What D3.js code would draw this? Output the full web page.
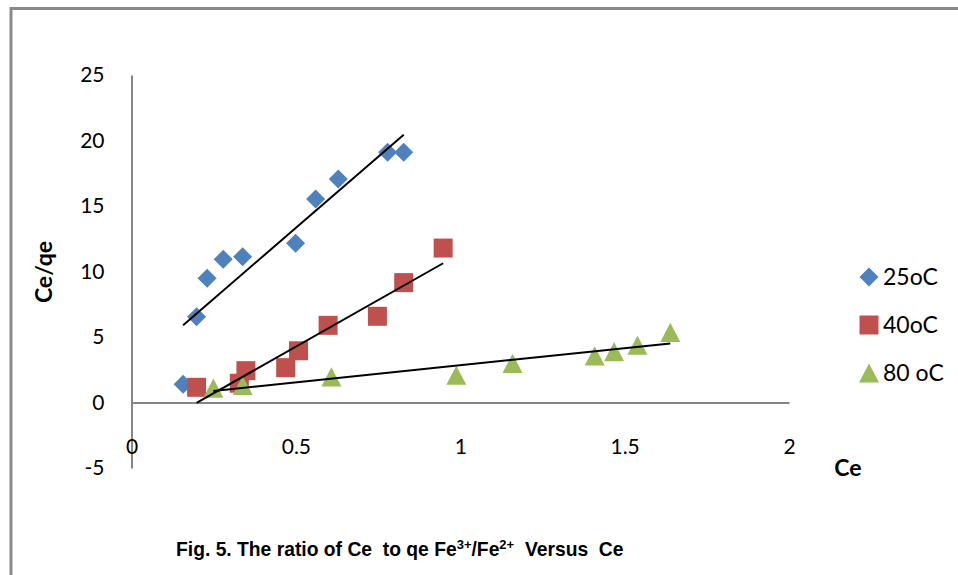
<!DOCTYPE html>
<html>
<head>
<meta charset="utf-8">
<script src="https://cdn.jsdelivr.net/npm/d3@7"></script>
<style>
  html, body { margin: 0; padding: 0; background: #fff; }
  svg { display: block; }
  text { white-space: pre; }
</style>
</head>
<body>
<svg id="chart" width="958" height="575"></svg>
<script>
// Ce (x) and Ce/qe (y) for each temperature
const ce25 = [0.157, 0.198, 0.230, 0.279, 0.338, 0.499, 0.560, 0.629, 0.779, 0.828];
const ratio25 = [1.39, 6.55, 9.48, 10.93, 11.13, 12.15, 15.53, 17.06, 19.10, 19.10];

const ce40 = [0.198, 0.328, 0.348, 0.469, 0.508, 0.598, 0.748, 0.828, 0.948];
const ratio40 = [1.16, 1.47, 2.43, 2.66, 3.95, 5.89, 6.58, 9.15, 11.79];

const ce80 = [0.249, 0.338, 0.608, 0.988, 1.159, 1.409, 1.468, 1.539, 1.639];
const ratio80 = [1.10, 1.31, 1.95, 2.08, 2.99, 3.56, 3.88, 4.37, 5.36];

const seriesNames = ["25oC", "40oC", "80 oC"];
const seriesColors = ["#4F81BD", "#C0504D", "#9BBB59"];

const xTicks = [0, 0.5, 1, 1.5, 2];
const yTicks = [-5, 0, 5, 10, 15, 20, 25];

const series = [
  { name: seriesNames[0], color: seriesColors[0], shape: "diamond", xs: ce25, ys: ratio25 },
  { name: seriesNames[1], color: seriesColors[1], shape: "square",  xs: ce40, ys: ratio40 },
  { name: seriesNames[2], color: seriesColors[2], shape: "triangle", xs: ce80, ys: ratio80 }
];

const svg = d3.select("#chart");
svg.append("rect").attr("width", 958).attr("height", 575).attr("fill", "#fff");

// Frame around the figure (left and top edges visible)
svg.append("path")
  .attr("d", "M11,575 L11,8.5 L958,8.5")
  .attr("fill", "none")
  .attr("stroke", "#8a8a8a")
  .attr("stroke-width", 3);

const x = d3.scaleLinear().domain([0, 2]).range([131.5, 789]);
const y = d3.scaleLinear().domain([-5, 25]).range([468, 75]);

const axisColor = "#868686";
const tickFont = "Lato, 'Open Sans', sans-serif";

// Y axis
const gy = svg.append("g")
  .attr("transform", `translate(${x(0)},0)`)
  .call(d3.axisLeft(y).tickValues(yTicks).tickSize(0).tickSizeOuter(0).tickPadding(27)
    .tickFormat(d => String(d)));
gy.select(".domain").attr("stroke", axisColor).attr("stroke-width", 2);
gy.selectAll("text").attr("font-family", tickFont).attr("font-size", 21).attr("fill", "#000");

// X axis at y = 0
const gx = svg.append("g")
  .attr("transform", `translate(0,${y(0)})`)
  .call(d3.axisBottom(x).tickValues(xTicks).tickSize(0).tickSizeOuter(0).tickPadding(37)
    .tickFormat(d => String(d)));
gx.select(".domain").attr("stroke", axisColor).attr("stroke-width", 2);
gx.selectAll("text").attr("font-family", tickFont).attr("font-size", 21).attr("fill", "#000");

// Marker shapes
const shapes = {
  diamond: { draw(ctx, size) { const r = Math.sqrt(size) / 2; ctx.moveTo(0, -r); ctx.lineTo(r, 0); ctx.lineTo(0, r); ctx.lineTo(-r, 0); ctx.closePath(); } },
  square:  { draw(ctx, size) { const r = Math.sqrt(size) / 2; ctx.rect(-r, -r, 2 * r, 2 * r); } },
  triangle:{ draw(ctx, size) { const w = Math.sqrt(size) / 2; const h = w * 0.96; ctx.moveTo(0, -h); ctx.lineTo(w, h); ctx.lineTo(-w, h); ctx.closePath(); } }
};
const markerSize = { diamond: 19 * 19, square: 19 * 19, triangle: 20 * 20 };

const symbolPath = s => d3.symbol().type(shapes[s]).size(markerSize[s])();

// Points
series.forEach(s => {
  svg.append("g").selectAll("path")
    .data(s.xs.map((v, i) => [v, s.ys[i]]))
    .join("path")
    .attr("transform", d => `translate(${x(d[0])},${y(d[1])})`)
    .attr("d", symbolPath(s.shape))
    .attr("fill", s.color);
});

// Linear trendlines (least squares), spanning each series' Ce range
function fit(xs, ys) {
  const mx = d3.mean(xs), my = d3.mean(ys);
  const sxy = d3.sum(xs, (v, i) => (v - mx) * (ys[i] - my));
  const sxx = d3.sum(xs, v => (v - mx) * (v - mx));
  const b = sxy / sxx;
  return { a: my - b * mx, b };
}
const line = d3.line().x(d => x(d[0])).y(d => y(d[1]));
series.forEach(s => {
  const { a, b } = fit(s.xs, s.ys);
  const [x0, x1] = d3.extent(s.xs);
  svg.append("path")
    .attr("d", line([[x0, a + b * x0], [x1, a + b * x1]]))
    .attr("fill", "none")
    .attr("stroke", "#000")
    .attr("stroke-width", 2);
});

// Legend
const legend = svg.append("g");
series.forEach((s, i) => {
  const ly = [277, 325, 373][i];
  legend.append("path")
    .attr("transform", `translate(869,${ly})`)
    .attr("d", symbolPath(s.shape))
    .attr("fill", s.color);
  legend.append("text")
    .attr("x", 883).attr("y", ly).attr("dy", "0.36em")
    .attr("font-family", tickFont).attr("font-size", 23)
    .text(s.name);
});

// Axis titles
svg.append("text")
  .attr("transform", "translate(44,272) rotate(-90)")
  .attr("text-anchor", "middle").attr("dy", "0.36em")
  .attr("font-family", tickFont).attr("font-size", 23).attr("font-weight", "bold")
  .text("Ce/qe");
svg.append("text")
  .attr("x", 848).attr("y", 468).attr("dy", "0.36em")
  .attr("text-anchor", "middle")
  .attr("font-family", tickFont).attr("font-size", 23).attr("font-weight", "bold")
  .text("Ce");

// Figure caption
const cap = svg.append("text")
  .attr("x", 176).attr("y", 556)
  .attr("font-family", "'Liberation Sans', Arial, sans-serif")
  .attr("font-size", 19.3).attr("font-weight", "bold");
cap.append("tspan").text("Fig. 5. The ratio of Ce  to qe Fe");
cap.append("tspan").attr("font-size", 13).attr("dy", -7).text("3+");
cap.append("tspan").attr("dy", 7).text("/Fe");
cap.append("tspan").attr("font-size", 13).attr("dy", -7).text("2+");
cap.append("tspan").attr("dy", 7).text("  Versus  Ce");
</script>
</body>
</html>
